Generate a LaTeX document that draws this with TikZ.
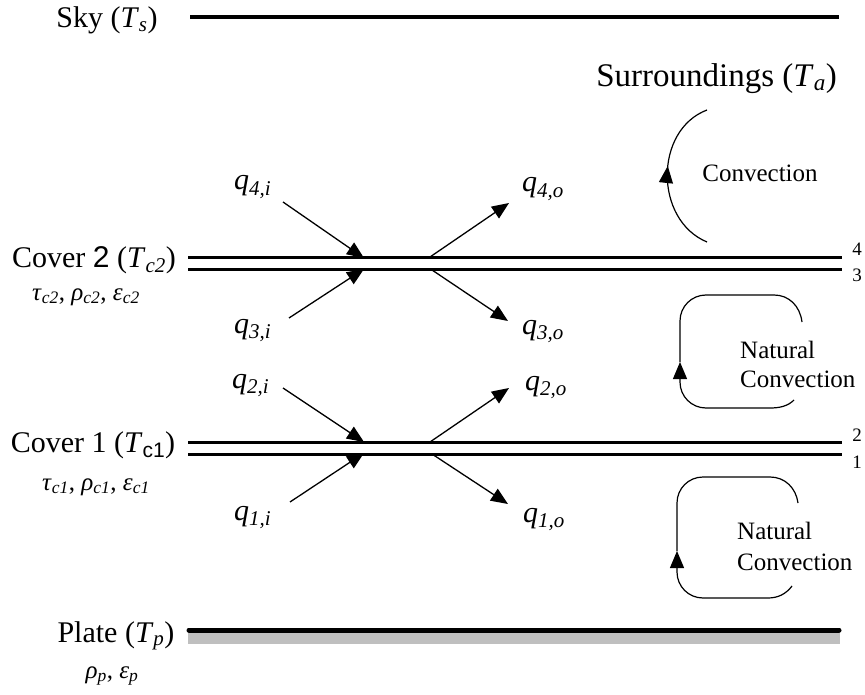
\documentclass[tikz,border=0pt]{standalone}
\usepackage{fontspec}
\setmainfont{Liberation Serif}
\newfontfamily\sansf{Liberation Sans}
\usetikzlibrary{arrows.meta,decorations.markings}
\newcommand\sbx[1]{\textsubscript{#1}}
\begin{document}
\begin{tikzpicture}[x=1pt,y=-1pt,
  lbl/.style={inner sep=0pt,font=\fontsize{30}{34}\selectfont},
  prop/.style={inner sep=0pt,font=\fontsize{25}{28}\selectfont},
  qlbl/.style={inner sep=0pt,anchor=base west,font=\fontsize{30}{34}\selectfont},
  num/.style={inner sep=0pt,anchor=base,font=\fontsize{19}{22}\selectfont},
  conv/.style={inner sep=0pt,align=left,font=\fontsize{25}{30}\selectfont},
  flux/.style={line width=1.3pt,-{Triangle[length=17pt,width=14pt]}},
  loopline/.style={line width=1.2pt},
  looptip/.style={-{Triangle[length=17pt,width=14pt]}},
  cover/.style={line width=3pt},
]
\useasboundingbox (0,0) rectangle (865,695);

% Sky
\node[lbl,anchor=base] (sky) at (107,28) {Sky (\textit{T}\sbx{\textit{s}})};
\coordinate (skyL) at (190,17);
\coordinate (skyR) at (839,17);
\draw[line width=4pt] (skyL) -- (skyR);

% Surroundings
\node[lbl,anchor=base east,font=\fontsize{33}{36}\selectfont] (sur) at (837,87) {Surroundings (\textit{T}\sbx{\textit{a}})};

% Convection arc
\coordinate (cvB) at (707,242);
\coordinate (cvT) at (707,110);
\draw[loopline,decoration={markings,mark=at position 0.56 with {\arrow{Triangle[length=17pt,width=14pt]}}},postaction={decorate}]
  (cvB) .. controls (654,220) and (654,130) .. (cvT);
\node[conv,anchor=base] (convtxt) at (760,182) {Convection};

% Cover 2
\node[lbl,anchor=base] (c2) at (94,267) {Cover {\sansf 2} (\textit{T}\sbx{\textit{c2}})};
\node[prop,anchor=base] (c2p) at (86,300) {\textit{τ}\sbx{\textit{c2}}, \textit{ρ}\sbx{\textit{c2}}, \textit{ε}\sbx{\textit{c2}}};
\coordinate (c2aL) at (188,258); \coordinate (c2aR) at (842,258);
\coordinate (c2bL) at (188,270); \coordinate (c2bR) at (842,270);
\draw[cover] (c2aL) -- (c2aR);
\draw[cover] (c2bL) -- (c2bR);
\node[num] (n4) at (857,256) {4};
\node[num] (n3) at (857,281) {3};

% fluxes cover 2
\node[qlbl] (q4i) at (234,190) {\textit{q}\sbx{\textit{4,i}}};
\node[qlbl] (q4o) at (522,192) {\textit{q}\sbx{\textit{4,o}}};
\node[qlbl] (q3i) at (234,333) {\textit{q}\sbx{\textit{3,i}}};
\node[qlbl] (q3o) at (522,334) {\textit{q}\sbx{\textit{3,o}}};
\coordinate (a4s) at (283,202); \coordinate (a4e) at (364,258);
\coordinate (a3s) at (289,318); \coordinate (a3e) at (364,269);
\coordinate (b4s) at (430,257); \coordinate (b4e) at (509,203);
\coordinate (b3s) at (432,270); \coordinate (b3e) at (508,321);
\draw[flux] (a4s) -- (a4e);
\draw[flux] (a3s) -- (a3e);
\draw[flux] (b4s) -- (b4e);
\draw[flux] (b3s) -- (b3e);

% Natural convection loop 1
\coordinate (l1a) at (794,400);
\coordinate (l1m) at (680,362);
\coordinate (l1b) at (802,322);
\draw[loopline,looptip]
  (l1a) .. controls (788,406) and (780,408) .. (770,408) -- (706,408)
  .. controls (691.6,408) and (680,396.4) .. (680,382) -- (l1m);
\draw[loopline]
  (l1m) -- (680,321) .. controls (680,306.6) and (691.6,295) .. (706,295)
  -- (774,295) .. controls (789,295) and (800,306) .. (l1b);
\node[conv,anchor=base west] (nc1) at (740,358) {Natural};
\node[conv,anchor=base west] (nc1b) at (740,387) {Convection};

% Cover 1
\node[lbl,anchor=base] (c1) at (93,452) {Cover 1 (\textit{T}\sbx{\sansf c1})};
\node[prop,anchor=base] (c1p) at (96,490) {\textit{τ}\sbx{\textit{c1}}, \textit{ρ}\sbx{\textit{c1}}, \textit{ε}\sbx{\textit{c1}}};
\coordinate (c1aL) at (188,442); \coordinate (c1aR) at (842,442);
\coordinate (c1bL) at (188,454); \coordinate (c1bR) at (842,454);
\draw[cover] (c1aL) -- (c1aR);
\draw[cover] (c1bL) -- (c1bR);
\node[num] (n2) at (857,441) {2};
\node[num] (n1) at (857,468) {1};

% fluxes cover 1
\node[qlbl] (q2i) at (232,388) {\textit{q}\sbx{\textit{2,i}}};
\node[qlbl] (q2o) at (525,390) {\textit{q}\sbx{\textit{2,o}}};
\node[qlbl] (q1i) at (234,520) {\textit{q}\sbx{\textit{1,i}}};
\node[qlbl] (q1o) at (523,522) {\textit{q}\sbx{\textit{1,o}}};
\coordinate (a2s) at (283,388); \coordinate (a2e) at (364,442);
\coordinate (a1s) at (290,502); \coordinate (a1e) at (364,453);
\coordinate (b2s) at (430,442); \coordinate (b2e) at (509,388);
\coordinate (b1s) at (432,454); \coordinate (b1e) at (508,504);
\draw[flux] (a2s) -- (a2e);
\draw[flux] (a1s) -- (a1e);
\draw[flux] (b2s) -- (b2e);
\draw[flux] (b1s) -- (b1e);

% Natural convection loop 2
\coordinate (l2a) at (792,586);
\coordinate (l2m) at (677,551);
\coordinate (l2b) at (798,503);
\draw[loopline,looptip]
  (l2a) .. controls (786,594) and (778,598) .. (768,598) -- (703,598)
  .. controls (688.6,598) and (677,586.4) .. (677,572) -- (l2m);
\draw[loopline]
  (l2m) -- (677,503) .. controls (677,488.6) and (688.6,477) .. (703,477)
  -- (770,477) .. controls (785,477) and (796,488) .. (l2b);
\node[conv,anchor=base west] (nc2) at (737,539) {Natural};
\node[conv,anchor=base west] (nc2b) at (737,570) {Convection};

% Plate
\node[lbl,anchor=base] (pl) at (116,642) {Plate (\textit{T}\sbx{\textit{p}})};
\node[prop,anchor=base] (plp) at (112,678) {\textit{ρ}\sbx{\textit{p}}, \textit{ε}\sbx{\textit{p}}};
\fill[gray!50] (188,632) rectangle (840,644);
\coordinate (plL) at (189,630); \coordinate (plR) at (839,630);
\draw[line width=5pt,line cap=round] (plL) -- (plR);
\end{tikzpicture}
\end{document}
